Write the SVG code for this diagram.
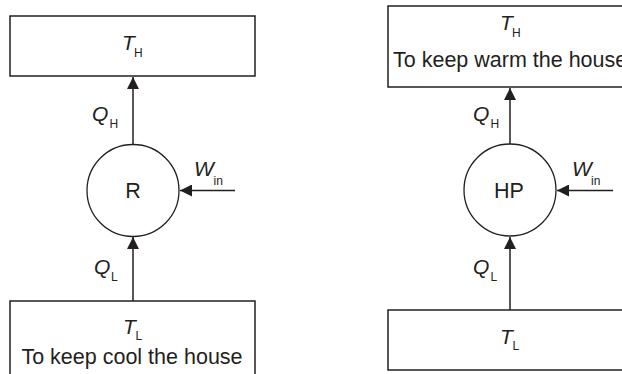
<svg xmlns="http://www.w3.org/2000/svg" width="622" height="374" viewBox="0 0 622 374">
<style>
.box{fill:#fff;stroke:#231f20;stroke-width:1.5}
.eng{fill:#fff;stroke:#231f20;stroke-width:1.3}
.ln{stroke:#231f20;stroke-width:1.5;fill:none}
text{font-family:"Liberation Sans",Arial,sans-serif;fill:#231f20}
.it{font-style:italic;font-size:21px}
.sub{font-size:12px}
.lbl{font-size:21.5px}
</style>
<defs>
<marker id="ah" viewBox="0 0 12 12" refX="12" refY="6" markerWidth="12" markerHeight="12" markerUnits="userSpaceOnUse" orient="auto">
<path d="M0,0 L12,6 L0,12 z" fill="#231f20"/>
</marker>
</defs>
<rect width="622" height="374" fill="#fff"/>
<g id="connectors">
<line class="ln" x1="133" y1="144.5" x2="133" y2="77" marker-end="url(#ah)"/>
<line class="ln" x1="133" y1="301" x2="133" y2="237" marker-end="url(#ah)"/>
<line class="ln" x1="235" y1="190.5" x2="180" y2="190.5" marker-end="url(#ah)"/>
<line class="ln" x1="510" y1="144" x2="510" y2="88" marker-end="url(#ah)"/>
<line class="ln" x1="510" y1="310" x2="510" y2="237" marker-end="url(#ah)"/>
<line class="ln" x1="613" y1="190.5" x2="557" y2="190.5" marker-end="url(#ah)"/>
<text class="it" x="92" y="121">Q</text><text class="sub" x="109.5" y="128">H</text>
<text class="it" x="94" y="274">Q</text><text class="sub" x="111" y="281">L</text>
<text class="it" x="194" y="176">W</text><text class="sub" x="213.5" y="184.5">in</text>
<text class="it" x="473" y="121">Q</text><text class="sub" x="490.5" y="127.5">H</text>
<text class="it" x="473" y="274">Q</text><text class="sub" x="490.5" y="281">L</text>
<text class="it" x="572" y="176">W</text><text class="sub" x="591" y="184.5">in</text>
</g>
<g id="left-hot">
<rect class="box" x="10" y="16" width="245" height="60"/>
<text class="it" x="122" y="50">T</text><text class="sub" x="134" y="57">H</text>
</g>
<g id="left-R">
<circle class="eng" cx="133" cy="190.5" r="46"/>
<text class="lbl" x="133" y="198" text-anchor="middle">R</text>
</g>
<g id="left-cold">
<rect class="box" x="10" y="301" width="245" height="85"/>
<text class="it" x="123" y="334">T</text><text class="sub" x="135.5" y="340">L</text>
<text class="lbl" x="132" y="364" text-anchor="middle">To keep cool the house</text>
</g>
<g id="right-hot">
<rect class="box" x="388" y="6" width="245" height="81"/>
<text class="it" x="500" y="30">T</text><text class="sub" x="512" y="37">H</text>
<text class="lbl" x="393" y="67">To keep warm the house</text>
</g>
<g id="right-HP">
<circle class="eng" cx="510" cy="190" r="46"/>
<text class="lbl" x="509" y="197.5" text-anchor="middle">HP</text>
</g>
<g id="right-cold">
<rect class="box" x="388" y="310" width="245" height="60"/>
<text class="it" x="500" y="344">T</text><text class="sub" x="512.5" y="350">L</text>
</g>
</svg>
